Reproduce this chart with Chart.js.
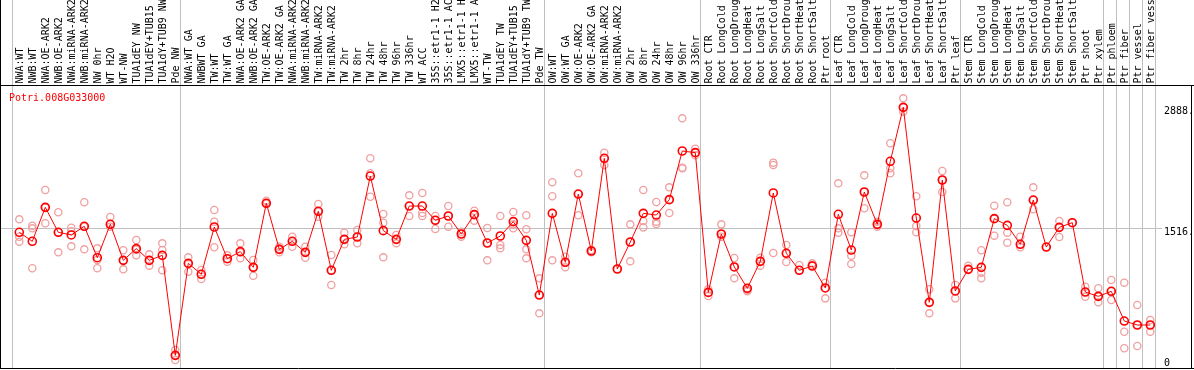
<!DOCTYPE html>
<html>
<head>
<meta charset="utf-8">
<script src="https://cdn.jsdelivr.net/npm/chart.js@4.4.0/dist/chart.umd.min.js"></script>
<style>
  html, body { margin: 0; padding: 0; background: #fff; }
  #box { width: 1194px; height: 370px; }
</style>
</head>
<body>
<div id="box"><canvas id="grafico" width="1194" height="370"></canvas></div>
<script>
// amostras (eixo x)
const categorias = [
  "NWA:WT", "NWB:WT", "NWA:OE-ARK2", "NWB:OE-ARK2", "NWA:miRNA-ARK2", "NWB:miRNA-ARK2",
  "NW 0hr", "WT H2O", "WT-NW", "TUA1dEY NW", "TUA1dEY+TUB15", "TUA1dY+TUB9 NW", "Pde NW",
  "NWA:WT GA", "NWBWT GA", "TW:WT", "TW:WT GA", "NWA:OE-ARK2 GA", "NWB:OE-ARK2 GA",
  "TW:OE-ARK2", "TW:OE-ARK2 GA", "NWA:miRNA-ARK2", "NWB:miRNA-ARK2", "TW:miRNA-ARK2", "TW:miRNA-ARK2",
  "TW 2hr", "TW 8hr", "TW 24hr", "TW 48hr", "TW 96hr", "TW 336hr", "WT ACC",
  "35S::etr1-1 H2", "35S::etr1-1 AC", "LMX5::etr1-1 H", "LMX5::etr1-1 A", "WT-TW",
  "TUA1dEY TW", "TUA1dEY+TUB15", "TUA1dY+TUB9 TW", "Pde TW",
  "OW:WT", "OW:WT GA", "OW:OE-ARK2", "OW:OE-ARK2 GA", "OW:miRNA-ARK2", "OW:miRNA-ARK2",
  "OW 2hr", "OW 8hr", "OW 24hr", "OW 48hr", "OW 96hr", "OW 336hr",
  "Root CTR", "Root LongCold", "Root LongDroug", "Root LongHeat", "Root LongSalt",
  "Root ShortCold", "Root ShortDrou", "Root ShortHeat", "Root ShortSalt", "Ptr root",
  "Leaf CTR", "Leaf LongCold", "Leaf LongDroug", "Leaf LongHeat", "Leaf LongSalt",
  "Leaf ShortCold", "Leaf ShortDrou", "Leaf ShortHeat", "Leaf ShortSalt", "Ptr leaf",
  "Stem CTR", "Stem LongCold", "Stem LongDroug", "Stem LongHeat", "Stem LongSalt",
  "Stem ShortCold", "Stem ShortDrou", "Stem ShortHeat", "Stem ShortSalt", "Ptr shoot",
  "Ptr xylem", "Ptr phloem", "Ptr fiber", "Ptr vessel", "Ptr fiber vessel"
];

// media de expressao por amostra
const medias = [
  1467, 1365, 1750, 1467, 1437, 1535, 1179, 1558, 1149, 1282, 1149, 1206, 72,
  1115, 991, 1527, 1168, 1248, 1070, 1796, 1274, 1365, 1240, 1705, 1036,
  1387, 1414, 2105, 1486, 1387, 1765, 1765, 1603, 1652, 1448, 1667, 1346,
  1425, 1588, 1376, 756,
  1682, 1127, 1901, 1255, 2306, 1051, 1357, 1682, 1663, 1837, 2389, 2370,
  786, 1448, 1074, 832, 1138, 1913, 1229, 1036, 1085, 836,
  1671, 1266, 1924, 1557, 2272, 2884, 1629, 673, 2060, 802,
  1047, 1070, 1622, 1546, 1331, 1833, 1300, 1523, 1576, 790,
  741, 798, 461, 416, 416
];

// replicas individuais
const replicas = [
  [1614, 1418, 1361], [1542, 1512, 1059], [1947, 1569, 1750], [1694, 1240, 1467],
  [1520, 1308, 1480], [1807, 1274, 1530], [1285, 1059, 1153], [1641, 1531, 1560],
  [1263, 1047, 1150], [1380, 1206, 1270], [1217, 1089, 1150], [1342, 1266, 1036],
  [133, 19, 72],
  [1183, 1021, 1110], [1040, 938, 995], [1720, 1588, 1297], [1206, 1134, 1168],
  [1342, 1172, 1240], [1153, 975, 1070], [1826, 1800, 1790], [1304, 1240, 1280],
  [1418, 1304, 1365], [1304, 1179, 1240], [1788, 1644, 1700], [1210, 870, 1036],
  [1463, 1331, 1387], [1493, 1342, 1414], [2306, 2136, 1871], [1675, 1576, 1183],
  [1437, 1342, 1387], [1886, 1652, 1765], [1913, 1686, 1652], [1652, 1505, 1603],
  [1765, 1531, 1652], [1474, 1418, 1448], [1712, 1599, 1667], [1516, 1149, 1346],
  [1652, 1323, 1285], [1697, 1557, 1512], [1660, 1501, 1274, 1172], [945, 548, 756],
  [2034, 1875, 1149], [1191, 1070, 1127], [2136, 1660, 1901], [1266, 1240, 1255],
  [2370, 2230, 2306], [1051], [1557, 1138, 1357], [1947, 1595, 1523],
  [1811, 1588, 1561], [1977, 1686, 1837], [2759, 2200, 2192], [2415, 2340, 2370],
  [821, 745, 786], [1557, 1418, 1448], [1176, 945, 1074], [813, 798, 832],
  [1179, 1089, 1138], [2257, 2230, 1232], [1323, 1130, 1229], [1096, 1036],
  [1115, 1096, 1085], [896, 718, 836],
  [2022, 1512, 1463], [1467, 1202, 1108], [2113, 1739, 1924], [1588, 1531, 1557],
  [2476, 2192, 2136], [2986, 2835, 2884], [1875, 1539, 1467], [821, 548, 673],
  [2162, 1924, 2060], [870, 718, 802],
  [1089, 1047], [1263, 1009, 945], [1769, 1429, 1622], [1807, 1463, 1350],
  [1418, 1297, 1331], [1977, 1728, 1833], [1300], [1595, 1414, 1523], [1576],
  [851, 737, 790], [832, 673, 741], [926, 700, 798], [896, 340, 152],
  [643, 178, 416], [473, 340, 416]
];

// fim de cada grupo (linha vertical depois desse indice)
const divisoes = [-1, 12, 40, 52, 62, 72, 83, 84, 85, 86, 87];

const ticksY = [0, 1516, 2888];
const rotulosY = ["0", "1516.", "2888."];
const gradeY = [1516];
const titulo = "Potri.008G033000";

const pontosReplicas = [];
replicas.forEach((lista, i) => lista.forEach(v => pontosReplicas.push({ x: i, y: v })));
const pontosMedia = medias.map((v, i) => ({ x: i, y: v }));

const decoracao = {
  id: "decoracao",
  beforeDatasetsDraw(chart) {
    const { ctx, chartArea: a, scales: { x, y } } = chart;
    ctx.save();
    ctx.strokeStyle = "#c0c0c0";
    ctx.lineWidth = 1;
    gradeY.forEach(v => {
      const py = Math.round(y.getPixelForValue(v)) + 0.5;
      ctx.beginPath();
      ctx.moveTo(a.left, py);
      ctx.lineTo(1162, py);
      ctx.stroke();
    });
    divisoes.forEach(d => {
      const px = Math.round(x.getPixelForValue(d + 0.4)) + 0.5;
      ctx.beginPath();
      ctx.moveTo(px, 0);
      ctx.lineTo(px, a.bottom);
      ctx.stroke();
    });
    ctx.restore();
  },
  afterDraw(chart) {
    const { ctx, chartArea: a, scales: { x, y } } = chart;
    ctx.save();
    // bordas
    ctx.strokeStyle = "#000";
    ctx.lineWidth = 1;
    ctx.beginPath();
    ctx.moveTo(0.5, 0);
    ctx.lineTo(0.5, a.bottom + 0.5);
    ctx.moveTo(0, 85.5);
    ctx.lineTo(1194, 85.5);
    ctx.moveTo(0, a.bottom + 0.5);
    ctx.lineTo(1194, a.bottom + 0.5);
    ctx.moveTo(1191.5, 85);
    ctx.lineTo(1191.5, a.bottom + 0.5);
    ctx.stroke();

    // rotulos das amostras (verticais)
    ctx.fillStyle = "#000";
    ctx.font = "10px 'DejaVu Sans Mono', monospace";
    ctx.textAlign = "left";
    ctx.textBaseline = "alphabetic";
    categorias.forEach((c, i) => {
      const px = x.getPixelForValue(i);
      ctx.save();
      ctx.translate(px + 3.6, 83.5);
      ctx.rotate(-Math.PI / 2);
      ctx.fillText(c, 0, 0);
      ctx.restore();
    });

    // eixo y a direita
    ticksY.forEach((v, k) => {
      const base = Math.min(y.getPixelForValue(v) + 7, a.bottom - 2);
      ctx.fillText(rotulosY[k], 1164, base);
    });

    // titulo
    ctx.fillStyle = "#ff0000";
    ctx.fillText(titulo, 9, 100.5);
    ctx.restore();
  }
};

function desenharGrafico() {
  const ctx = document.getElementById("grafico").getContext("2d");
  new Chart(ctx, {
    type: "line",
    data: {
      datasets: [
        {
          type: "scatter",
          label: "replicas",
          data: pontosReplicas,
          order: 2,
          showLine: false,
          pointRadius: 3.6,
          pointBorderWidth: 1.3,
          pointBorderColor: "#f0a0a0",
          pointBackgroundColor: "rgba(0,0,0,0)"
        },
        {
          label: titulo,
          data: pontosMedia,
          order: 1,
          borderColor: "#ff0000",
          borderWidth: 1,
          tension: 0,
          pointRadius: 4,
          pointBorderWidth: 1.6,
          pointBorderColor: "#ff0000",
          pointBackgroundColor: "rgba(0,0,0,0)"
        }
      ]
    },
    options: {
      responsive: false,
      animation: false,
      devicePixelRatio: 1,
      layout: { autoPadding: false, padding: { left: 1, right: 2, top: 86, bottom: 2 } },
      plugins: { legend: { display: false }, tooltip: { enabled: false } },
      scales: {
        x: { type: "linear", display: false, min: -1.4077, max: 90.208 },
        y: { type: "linear", display: false, min: -71.4, max: 3125.8 }
      }
    },
    plugins: [decoracao]
  });
}

window.onload = desenharGrafico;
</script>
</body>
</html>
